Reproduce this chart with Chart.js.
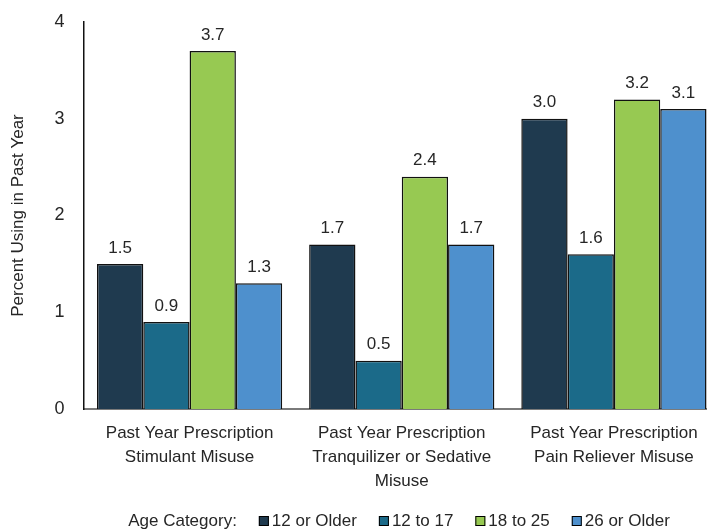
<!DOCTYPE html>
<html>
<head>
<meta charset="utf-8">
<script src="https://cdn.jsdelivr.net/npm/chart.js@4/dist/chart.umd.min.js"></script>
<style>
  html, body { margin: 0; padding: 0; background: #fff; overflow: hidden; }
  #wrap { position: relative; width: 720px; height: 531px; }
</style>
</head>
<body>
<div id="wrap"><canvas id="c"></canvas></div>
<script>
const categories = [
  ["Past Year Prescription", "Stimulant Misuse"],
  ["Past Year Prescription", "Tranquilizer or Sedative", "Misuse"],
  ["Past Year Prescription", "Pain Reliever Misuse"]
];
const seriesNames = ["12 or Older", "12 to 17", "18 to 25", "26 or Older"];
const values12orOlder = [1.5, 1.7, 3.0];
const values12to17 = [0.9, 0.5, 1.6];
const values18to25 = [3.7, 2.4, 3.2];
const values26orOlder = [1.3, 1.7, 3.1];
const seriesColors = ["#1f3a4f", "#1b6a89", "#97c952", "#4e90cd"];
const yTickValues = [0, 1, 2, 3, 4];
const yTitle = "Percent Using in Past Year";
const legendPrefix = "Age Category:";

const FONT = "'Liberation Sans', Arial, sans-serif";
const TEXT = "#262626";

const allValues = [values12orOlder, values12to17, values18to25, values26orOlder];

const dataLabels = {
  id: 'dataLabels',
  afterDatasetsDraw(chart) {
    const ctx = chart.ctx;
    ctx.save();
    ctx.font = "17px " + FONT;
    ctx.fillStyle = TEXT;
    ctx.textAlign = 'center';
    ctx.textBaseline = 'middle';
    chart.data.datasets.forEach((ds, i) => {
      const meta = chart.getDatasetMeta(i);
      meta.data.forEach((bar, j) => {
        ctx.fillText(ds.data[j].toFixed(1), bar.x, bar.y - 16);
      });
    });
    ctx.restore();
  }
};

const customLegend = {
  id: 'customLegend',
  afterDraw(chart) {
    const ctx = chart.ctx;
    ctx.save();
    ctx.font = "17px " + FONT;
    ctx.textBaseline = 'middle';
    ctx.textAlign = 'left';
    const box = 10, gapBoxText = 3, gapItem = 22;
    const y = 521;
    let total = ctx.measureText(legendPrefix).width;
    seriesNames.forEach(n => { total += gapItem + box + gapBoxText + ctx.measureText(n).width; });
    let x = 399 - total / 2;
    ctx.fillStyle = TEXT;
    ctx.fillText(legendPrefix, x, y);
    x += ctx.measureText(legendPrefix).width;
    seriesNames.forEach((n, i) => {
      x += gapItem;
      ctx.fillStyle = seriesColors[i];
      ctx.fillRect(x, y - box / 2, box, box);
      ctx.strokeStyle = "#000";
      ctx.lineWidth = 1;
      ctx.strokeRect(x + 0.5, y - box / 2 + 0.5, box - 1, box - 1);
      x += box + gapBoxText;
      ctx.fillStyle = TEXT;
      ctx.fillText(n, x, y);
      x += ctx.measureText(n).width;
    });
    ctx.restore();
  }
};

new Chart(document.getElementById('c'), {
  type: 'bar',
  data: {
    labels: categories,
    datasets: seriesNames.map((name, i) => ({
      label: name,
      data: allValues[i],
      backgroundColor: seriesColors[i],
      borderColor: "#111",
      borderWidth: 1.5,
      borderSkipped: 'bottom',
      barPercentage: 1.0,
      categoryPercentage: 0.873
    }))
  },
  options: {
    responsive: true,
    maintainAspectRatio: false,
    animation: false,
    devicePixelRatio: 1,
    layout: { padding: { top: 22, right: 0, bottom: 42, left: 0 } },
    plugins: {
      legend: { display: false },
      tooltip: { enabled: false },
      title: { display: false }
    },
    scales: {
      x: {
        grid: { display: false, drawTicks: false },
        border: { display: true, color: "#7a7a7a", width: 2 },
        ticks: {
          font: { family: FONT, size: 17, lineHeight: 1.41 },
          color: TEXT,
          padding: 12,
          maxRotation: 0,
          autoSkip: false
        },
        afterFit(scale) {
          scale.height = 80;
          scale.paddingLeft = 0; scale.paddingRight = 0;
        }
      },
      y: {
        min: 0,
        max: 4,
        afterBuildTicks(scale) { scale.ticks = yTickValues.map(v => ({ value: v })); },
        grid: { display: false, drawTicks: false },
        border: { display: true, color: "#111", width: 1.5 },
        ticks: {
          font: { family: FONT, size: 18 },
          color: TEXT,
          padding: 19
        },
        title: {
          display: true,
          text: yTitle,
          font: { family: FONT, size: 17 },
          color: TEXT,
          padding: { top: 8, bottom: 4 }
        },
        afterFit(scale) {
          scale.width = 83.5;
          scale.paddingTop = 0; scale.paddingBottom = 0;
        }
      }
    }
  },
  plugins: [dataLabels, customLegend]
});
</script>
</body>
</html>
